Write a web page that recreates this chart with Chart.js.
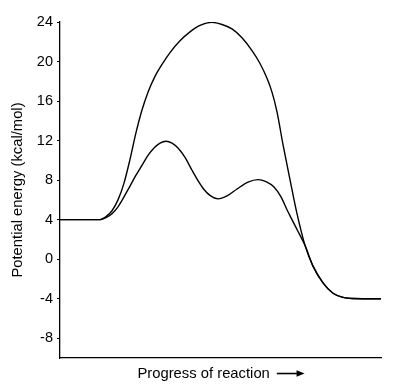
<!DOCTYPE html>
<html>
<head>
<meta charset="utf-8">
<script src="https://cdn.jsdelivr.net/npm/chart.js@4/dist/chart.umd.min.js"></script>
<style>
  html, body { margin: 0; padding: 0; background: #fff; }
  #wrap { width: 401px; height: 391px; }
</style>
</head>
<body>
<div id="wrap"><canvas id="energyChart" width="401" height="391"></canvas></div>
<script>
// progress of reaction (arbitrary units, 0-321) and potential energy (kcal/mol)
const progressUpper = [0, 40, 46, 52, 58, 64, 70, 76, 82, 88, 95, 102, 110, 120, 130, 140, 152, 162, 172, 182, 192, 200, 207, 212, 217, 223, 230, 237, 245, 253, 263, 273, 283, 292, 321];
const energyUpper = [4, 4, 4.3, 4.9, 6.0, 7.7, 10.1, 12.8, 15.1, 16.9, 18.5, 19.7, 20.9, 22.1, 23.0, 23.65, 23.96, 23.75, 23.3, 22.4, 21.1, 19.8, 18.3, 16.9, 14.9, 11.6, 8.05, 4.6, 1.4, -0.7, -2.4, -3.45, -3.86, -3.98, -4];

const progressLower = [0, 40, 46, 52, 58, 64, 70, 76, 82, 88, 94, 100, 106, 112, 118, 125, 132, 138, 144, 150, 158, 167, 177, 188, 198, 206, 214, 221, 227, 232, 237, 245, 253, 263, 273, 283, 292, 321];
const energyLower = [4, 4, 4.2, 4.6, 5.3, 6.3, 7.4, 8.5, 9.5, 10.5, 11.25, 11.75, 11.94, 11.75, 11.25, 10.3, 9.0, 7.95, 7.05, 6.45, 6.1, 6.4, 7.1, 7.8, 8.05, 7.85, 7.3, 6.3, 5.0, 4.0, 3.0, 1.4, -0.7, -2.4, -3.45, -3.86, -3.98, -4];

const yTicks = [-8, -4, 0, 4, 8, 12, 16, 20, 24];

const toPoints = (xs, ys) => xs.map((x, i) => ({ x: x, y: ys[i] }));

const fontFamily = '"Liberation Sans", Arial, sans-serif';
const titleFont = { family: fontFamily, size: 14.8 };
const tickFont = { family: fontFamily, size: 14.5 };
const xTitle = 'Progress of reaction';
const arrowGap = '\u2003\u2003 ';

const lineStyle = {
    borderColor: '#000',
    borderWidth: 1.4,
    pointRadius: 0,
    fill: false,
    cubicInterpolationMode: 'monotone'
};

// draws the arrow that sits after the x axis title
const arrowPlugin = {
    id: 'titleArrow',
    afterDraw(chart) {
        const s = chart.scales.x;
        const ctx = chart.ctx;
        ctx.save();
        ctx.font = titleFont.size + 'px ' + fontFamily;
        const full = ctx.measureText(xTitle + arrowGap).width;
        const textW = ctx.measureText(xTitle).width;
        const start = (s.left + s.right) / 2 - full / 2;
        const x0 = start + textW + 7;
        const x1 = start + full + 1;
        const y = s.bottom - 8.6 - titleFont.size * 1.2 / 2;
        ctx.strokeStyle = '#000';
        ctx.fillStyle = '#000';
        ctx.lineWidth = 1.6;
        ctx.beginPath();
        ctx.moveTo(x0, y);
        ctx.lineTo(x1 - 6, y);
        ctx.stroke();
        ctx.beginPath();
        ctx.moveTo(x1, y);
        ctx.lineTo(x1 - 8, y - 3.2);
        ctx.lineTo(x1 - 8, y + 3.2);
        ctx.closePath();
        ctx.fill();
        ctx.restore();
    }
};

new Chart(document.getElementById('energyChart').getContext('2d'), {
    type: 'line',
    data: {
        datasets: [
            Object.assign({ label: 'upper', data: toPoints(progressUpper, energyUpper) }, lineStyle),
            Object.assign({ label: 'lower', data: toPoints(progressLower, energyLower) }, lineStyle)
        ]
    },
    options: {
        responsive: false,
        animation: false,
        layout: { padding: { left: 0, right: 20, top: 22, bottom: 0 } },
        plugins: {
            legend: { display: false },
            tooltip: { enabled: false }
        },
        scales: {
            x: {
                type: 'linear',
                min: 0,
                max: 321,
                grid: { display: false },
                border: { display: true, color: '#000', width: 1.3 },
                ticks: { display: false },
                title: {
                    display: true,
                    text: xTitle + arrowGap,
                    color: '#000',
                    font: titleFont,
                    padding: { top: 4, bottom: 8.6 }
                },
                afterFit: (scale) => { scale.height = 33; }
            },
            y: {
                min: -10,
                max: 24,
                afterBuildTicks: (axis) => { axis.ticks = yTicks.map(v => ({ value: v })); },
                grid: { drawOnChartArea: false, drawTicks: true, tickLength: 3, color: '#000' },
                border: { display: true, color: '#000', width: 1.3 },
                ticks: { color: '#000', font: tickFont, padding: 4 },
                title: {
                    display: true,
                    text: 'Potential energy (kcal/mol)',
                    color: '#000',
                    font: titleFont,
                    padding: { top: 9, bottom: 0 }
                },
                afterFit: (scale) => { scale.width = 60; }
            }
        }
    },
    plugins: [arrowPlugin]
});
</script>
</body>
</html>
